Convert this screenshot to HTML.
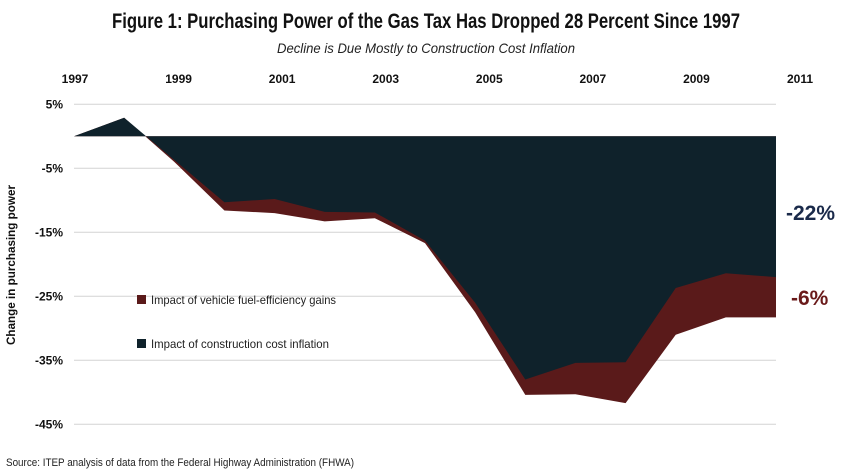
<!DOCTYPE html>
<html><head><meta charset="utf-8"><style>
html,body{margin:0;padding:0;background:#fff;}
svg{display:block;font-family:"Liberation Sans",sans-serif;}
</style></head><body>
<svg id="chart" width="849" height="470" viewBox="0 0 849 470">
<text x="426" y="28" text-anchor="middle" font-size="21" font-weight="bold" fill="#111" textLength="628" lengthAdjust="spacingAndGlyphs">Figure 1: Purchasing Power of the Gas Tax Has Dropped 28 Percent Since 1997</text>
<text x="426" y="53" text-anchor="middle" font-size="14" font-style="italic" fill="#222" textLength="298" lengthAdjust="spacingAndGlyphs">Decline is Due Mostly to Construction Cost Inflation</text>
<g id="grid"></g><g id="areas"></g><g id="xlabels"></g><g id="ylabels"></g>
<text transform="translate(15,265) rotate(-90)" text-anchor="middle" font-size="12" font-weight="bold" fill="#111" textLength="160" lengthAdjust="spacingAndGlyphs">Change in purchasing power</text>
<rect x="137" y="295" width="9" height="9" fill="#5a1a1a"/>
<text x="151" y="304" font-size="12" fill="#222" textLength="185" lengthAdjust="spacingAndGlyphs">Impact of vehicle fuel-efficiency gains</text>
<rect x="137" y="339" width="9" height="9" fill="#0f222b"/>
<text x="151" y="348" font-size="12" fill="#222" textLength="178" lengthAdjust="spacingAndGlyphs">Impact of construction cost inflation</text>
<text x="786" y="220" font-size="21" font-weight="bold" fill="#1a2a4a">-22%</text>
<text x="791" y="305" font-size="21" font-weight="bold" fill="#6a1a1a">-6%</text>
<text x="6" y="466" font-size="11" fill="#222" textLength="348" lengthAdjust="spacingAndGlyphs">Source: ITEP analysis of data from the Federal Highway Administration (FHWA)</text>
</svg>
<script>
const years=[1997,1998,1999,2000,2001,2002,2003,2004,2005,2006,2007,2008,2009,2010,2011];
const constructionOnly=[0,2.9,-3.7,-10.3,-9.8,-11.8,-11.9,-16.3,-26,-38.0,-35.4,-35.3,-23.7,-21.4,-22.0];
const totalChange=[0,2.9,-4.0,-11.6,-12.0,-13.3,-12.8,-16.7,-27.5,-40.4,-40.3,-41.7,-31.0,-28.3,-28.3];
const yTicks=[5,-5,-15,-25,-35,-45];
const xTickYears=[1997,1999,2001,2003,2005,2007,2009,2011];
const NS="http://www.w3.org/2000/svg";
const xs=y=>74+(y-1997)*(776-74)/14;
const xl=y=>75+(y-1997)*(800-75)/14;
const ys=v=>136.3-v*6.4;
function mk(tag,attrs,parent){const e=document.createElementNS(NS,tag);for(const k in attrs)e.setAttribute(k,attrs[k]);parent.appendChild(e);return e;}
const grid=document.getElementById('grid'),areas=document.getElementById('areas'),xlab=document.getElementById('xlabels'),ylab=document.getElementById('ylabels');
yTicks.forEach(t=>{
 const l=mk('line',{x1:74,x2:776,y1:ys(t),y2:ys(t),stroke:'#d4d4d4','stroke-width':1},grid);
 
 
 const tx=mk('text',{x:63,y:ys(t)+4,'text-anchor':'end','font-size':12,'font-weight':'bold',fill:'#111'},ylab);
 tx.textContent=t+'%';
 
 
});
xTickYears.forEach(y=>{
 const tx=mk('text',{x:xl(y),y:83,'text-anchor':'middle','font-size':12,'font-weight':'bold',fill:'#111'},xlab);
 tx.textContent=y;
 
 
});
function areaPts(vals){let p=xs(years[0])+','+ys(0);years.forEach((y,i)=>{p+=' '+xs(y)+','+ys(vals[i]);});p+=' '+xs(years[years.length-1])+','+ys(0);return p;}
const red=mk('polygon',{points:areaPts(totalChange),fill:'#5a1a1a'},areas);


const dark=mk('polygon',{points:areaPts(constructionOnly),fill:'#0f222b'},areas);


</script>
</body></html>
